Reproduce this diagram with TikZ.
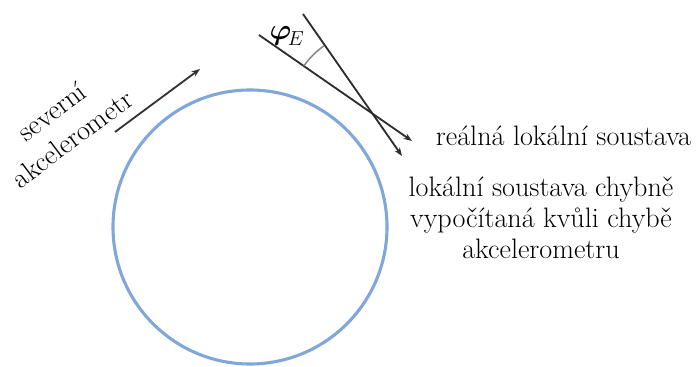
\documentclass[tikz,border=0pt]{standalone}
\usepackage{amsmath}
\usepackage{fontspec}
\usepackage{tikz}
\usetikzlibrary{arrows.meta}

\definecolor{earthblue}{RGB}{128,166,218}
\definecolor{linegray}{RGB}{45,45,45}

\begin{document}
\begin{tikzpicture}[x=0.25mm, y=0.25mm,
    every node/.style={font=\fontsize{20}{22}\selectfont},
    frame/.style={draw=linegray, line width=1.3pt, -{Stealth[length=6pt, width=4.5pt]}}]
    \useasboundingbox (0,0) rectangle (696,367);

    % Earth
    \draw[earthblue, line width=2.2pt] (250,140) circle (137);

    % North accelerometer
    \draw[frame, draw=darkgray!80!black] (115,235) -- (200,298);
    \node[rotate=37, align=center, font=\fontsize{20}{24}\selectfont] (acc) at (62,242) {severní\\akcelerometr};

    % Real and computed local frame
    \coordinate (realA) at (259,332);
    \coordinate (realB) at (412,226);
    \coordinate (compA) at (303,353);
    \coordinate (compB) at (402,211);
    \draw[frame] (realA) -- (realB);
    \draw[frame] (compA) -- (compB);

    % Error angle
    \coordinate (cross) at (371,254);
    \draw[gray, line width=1pt] (cross) ++(125:82) arc (125:145:82);
    \node (phi) at (287,331) {$\boldsymbol{\varphi}_{\!E}$};

    % Labels
    \node[anchor=base west] (real) at (431,221) {reálná lokální soustava};
    \node[align=center] (comp) at (541,149) {lokální soustava chybně\\vypočítaná kvůli chybě\\akcelerometru};
\end{tikzpicture}
\end{document}
